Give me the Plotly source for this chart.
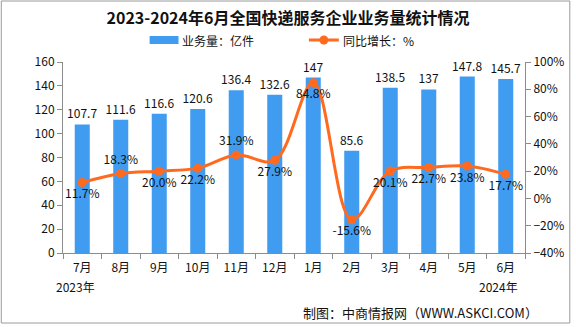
import plotly.graph_objects as go

months = ["7月", "8月", "9月", "10月", "11月", "12月", "1月", "2月", "3月", "4月", "5月", "6月"]
volume = [107.7, 111.6, 116.6, 120.6, 136.4, 132.6, 147, 85.6, 138.5, 137, 147.8, 145.7]
growth = [11.7, 18.3, 20.0, 22.2, 31.9, 27.9, 84.8, -15.6, 20.1, 22.7, 23.8, 17.7]
growth_pos = ["bottom center", "top center", "bottom center", "bottom center", "top center",
              "bottom center", "bottom center", "bottom center", "bottom center",
              "bottom center", "bottom center", "bottom center"]

FONT = "Noto Sans CJK SC"
BAR = "#3F9CF1"
LINE = "#FF6A1F"
AXIS = "#8C8C8C"

W, H = 576, 327
L, R, T, B = 63, 49, 62, 74
PW, PH = W - L - R, H - T - B


def px(x):
    return (x - L) / PW


def py(y):
    return (H - B - y) / PH


fig = go.Figure()
fig.add_trace(go.Bar(
    x=months, y=volume, name="业务量：亿件", showlegend=False,
    marker=dict(color=BAR, line=dict(width=0)), width=0.39,
    text=[f"{v:g}" for v in volume], textposition="outside", constraintext="none",
    textfont=dict(size=12, color="#111", family=FONT), cliponaxis=False,
))
fig.add_trace(go.Scatter(
    x=months, y=growth, name="同比增长：%", yaxis="y2", showlegend=False,
    mode="lines+markers+text",
    line=dict(color=LINE, width=3, shape="spline", smoothing=1.0),
    marker=dict(color=LINE, size=9),
    text=[f"{v:.1f}%" for v in growth], textposition=growth_pos,
    textfont=dict(size=12, color="#111", family=FONT), cliponaxis=False,
))

# year labels under first and last month
for i, yr in [(0, "2023年"), (11, "2024年")]:
    fig.add_annotation(x=i, y=0, xref="x", yref="paper", text=yr, showarrow=False,
                       yanchor="middle", yshift=-33, xshift=-7,
                       font=dict(size=12, color="#111", family=FONT))

fig.add_annotation(x=px(542), y=py(312), xref="paper", yref="paper",
                   text="制图：中商情报网（WWW.ASKCI.COM）",
                   showarrow=False, xanchor="right", yanchor="middle",
                   font=dict(size=13, color="#111", family=FONT))

# legend drawn by hand
fig.add_shape(type="rect", xref="paper", yref="paper", x0=px(150), x1=px(179),
              y0=py(44), y1=py(36), fillcolor=BAR, line=dict(width=0))
fig.add_annotation(x=px(181), y=py(40), xref="paper", yref="paper", text="业务量：亿件",
                   showarrow=False, xanchor="left", yanchor="middle",
                   font=dict(size=12, color="#111", family=FONT))
fig.add_shape(type="line", xref="paper", yref="paper", x0=px(310), x1=px(340),
              y0=py(40), y1=py(40), line=dict(color=LINE, width=3))
fig.add_shape(type="circle", xref="paper", yref="paper", x0=px(320.5), x1=px(329.5),
              y0=py(44.5), y1=py(35.5), fillcolor=LINE, line=dict(width=0))
fig.add_annotation(x=px(342), y=py(40), xref="paper", yref="paper", text="同比增长：%",
                   showarrow=False, xanchor="left", yanchor="middle",
                   font=dict(size=12, color="#111", family=FONT))

fig.update_layout(
    width=W, height=H,
    margin=dict(l=L, r=R, t=T, b=B),
    paper_bgcolor="white", plot_bgcolor="white",
    font=dict(family=FONT, size=12, color="#111"),
    title=dict(text="<b>2023-2024年6月全国快递服务企业业务量统计情况</b>",
               x=0.5, xanchor="center", y=1 - 18 / H, yanchor="middle",
               font=dict(size=16, color="#111", family=FONT)),
    showlegend=False,
    xaxis=dict(showline=True, linecolor=AXIS, linewidth=1, ticks="outside", tickson="boundaries",
               tickcolor=AXIS, ticklen=5, showgrid=False, tickfont=dict(size=12),
               ticklabelstandoff=4, range=[-0.5, 11.5]),
    yaxis=dict(range=[0, 160], dtick=20, showline=True, linecolor=AXIS, ticks="outside",
               tickcolor=AXIS, ticklen=5, showgrid=False, zeroline=False, tickfont=dict(size=12)),
    yaxis2=dict(range=[-40, 100], dtick=20, overlaying="y", side="right", showline=True,
                linecolor=AXIS, ticks="outside", tickcolor=AXIS, ticklen=5, showgrid=False,
                zeroline=False, ticksuffix="%", tickfont=dict(size=12)),
)

# outer frame
fig.add_shape(type="rect", xref="paper", yref="paper", x0=px(1), x1=px(572),
              y0=py(323), y1=py(1), line=dict(color="#9A9A9A", width=1))

fig.write_html("out.html")
